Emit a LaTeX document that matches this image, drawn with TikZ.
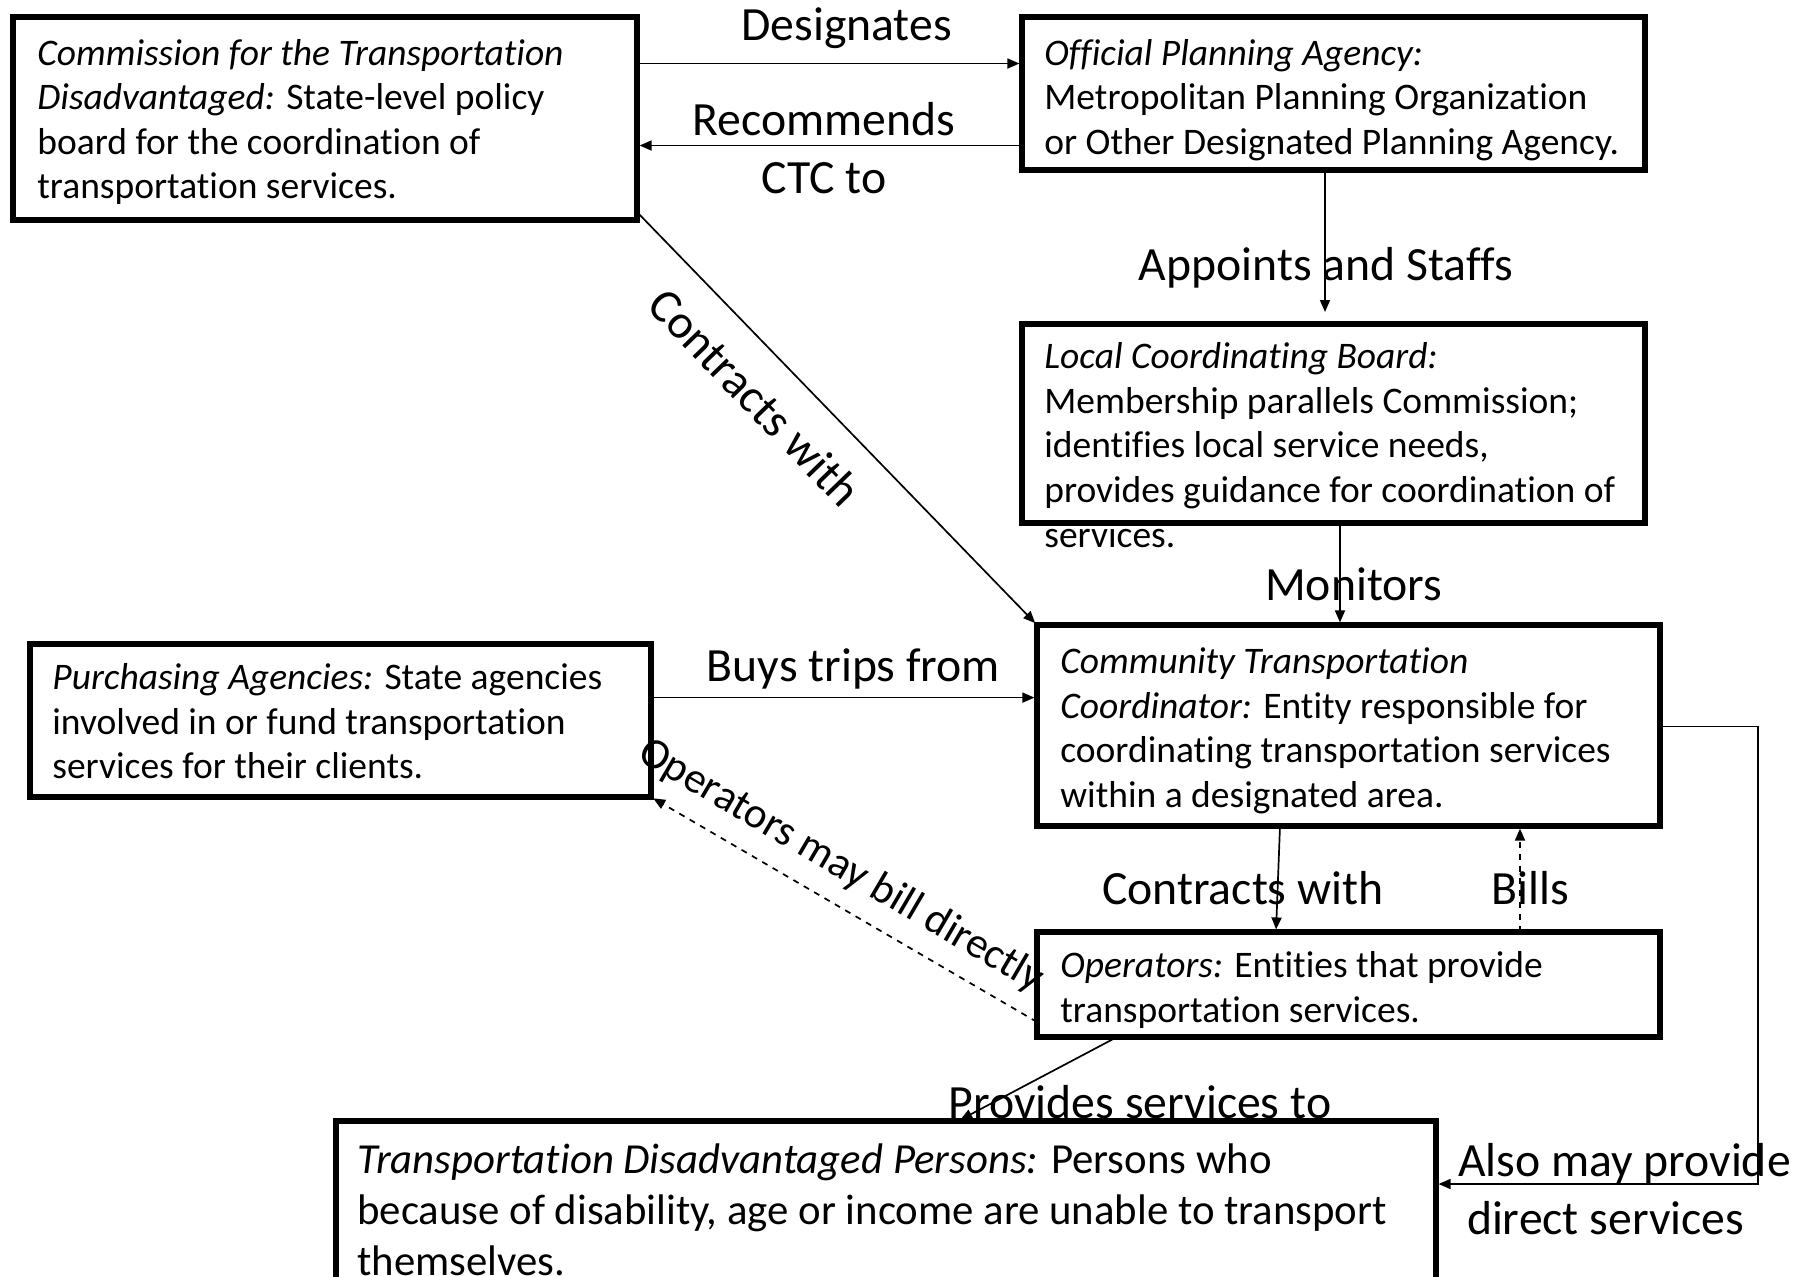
\documentclass[tikz,border=0pt]{standalone}
\usepackage{fontspec}
\setmainfont{Carlito}[Ligatures=NoCommon]
\usetikzlibrary{arrows.meta,fit}
\begin{document}
\begin{tikzpicture}[x=0.5pt,y=-0.5pt,
  bx/.style={draw,line width=2.8pt,inner sep=0pt,outer sep=0pt,rectangle},
  txt/.style={anchor=north west,inner sep=0pt,align=left,font=\fontsize{18.75}{22.3}\selectfont},
  bigtxt/.style={anchor=north west,inner sep=0pt,align=left,font=\fontsize{21.4}{25.5}\selectfont},
  lbl/.style={inner sep=0pt,align=center,font=\fontsize{23.85}{29}\selectfont},
  conn/.style={line width=0.85pt,-{Triangle[length=6pt,width=5pt]},shorten >=1.3pt},
]
\useasboundingbox (0,0) rectangle (1811,1276);
\clip (0,0) rectangle (1811,1276);

% boxes
\node[bx, fit={(13,17) (637,220)}] (b1) {};
\node[bx, fit={(1022,17) (1645,170)}] (b2) {};
\node[bx, fit={(1022,324) (1645,523)}] (b3) {};
\node[bx, fit={(1037,625) (1660,826)}] (b4) {};
\node[bx, fit={(30,644) (651,797)}] (b5) {};
\node[bx, fit={(1037,932) (1660,1037)}] (b6) {};
\node[bx, fit={(336,1121) (1436,1300)}] (b7) {};

% box texts
\node[txt] (t1) at (37,33.5) {\strut{\itshape Commission for the Transportation}\\{\itshape Disadvantaged:} State-level policy\\board for the coordination of\\transportation services.};
\node[txt] (t2) at (1044,33.5) {\strut{\itshape Official Planning Agency:}\\Metropolitan Planning Organization\\or Other Designated Planning Agency.};
\node[txt] (t3) at (1044,337) {\strut{\itshape Local Coordinating Board:}\\Membership parallels Commission;\\identifies local service needs,\\provides guidance for coordination of\\services.};
\node[txt] (t4) at (1060,642) {\strut{\itshape Community Transportation}\\{\itshape Coordinator:} Entity responsible for\\coordinating transportation services\\within a designated area.};
\node[txt] (t5) at (52,658) {\strut{\itshape Purchasing Agencies:} State agencies\\involved in or fund transportation\\services for their clients.};
\node[txt] (t6) at (1060,946) {\strut{\itshape Operators:} Entities that provide\\transportation services.};
\node[bigtxt] (t7) at (357,1137) {\strut{\itshape Transportation Disadvantaged Persons:} Persons who\\because of disability, age or income are unable to transport\\themselves.};

% connectors
\draw[conn] (b1.east |- 0,63.5) -- (b2.west |- 0,63.5);
\draw[conn] (b2.west |- 0,145.5) -- (b1.east |- 0,145.5);
\draw[conn,shorten >=6pt] (1325,0 |- b2.south) -- (1325,0 |- b3.north);
\draw[conn] (b1.east |- 0,212) -- (b4.north west);
\draw[conn] (1340,0 |- b3.south) -- (1340,0 |- b4.north);
\draw[conn] (b5.east |- 0,697.6) -- (b4.west |- 0,697.6);
\draw[conn,dashed] (b6.west |- 0,1022) -- (b5.south east);
\draw[conn] (1280,0 |- b4.south) -- (1276,0 |- b6.north);
\draw[conn,dashed] (1520,0 |- b6.north) -- (1520,0 |- b4.south);
\draw[conn] (1117,0 |- b6.south) -- (958,0 |- b7.north);
\coordinate (rt) at (1758,726.5);
\coordinate (rb) at (1758,1184);
\draw[conn] (b4.east |- rt) -- (rt) -- (rb) -- (b7.east |- rb);

% labels
\node[lbl,anchor=base] (l1) at (846.6,40.4) {Designates};
\node[lbl,anchor=north] (l2) at (824,94.4) {\strut Recommends\\\strut CTC to};
\node[lbl,anchor=base] (l3) at (1326,280.6) {Appoints and Staffs};
\node[lbl,rotate=-46] (l4) at (755,397) {Contracts with};
\node[lbl,anchor=base] (l5) at (1353.7,600.6) {Monitors};
\node[lbl,anchor=base] (l6) at (853.5,681.4) {Buys trips from};
\node[lbl,rotate=-30.4,font=\fontsize{21.6}{26}\selectfont] (l7) at (841,866) {Operators may bill directly};
\node[lbl,anchor=base] (l8) at (1242.8,904.4) {Contracts with};
\node[lbl,anchor=base] (l9) at (1530,904.4) {Bills};
\node[lbl,anchor=base] (l10) at (1140,1118) {Provides services to};
\node[lbl,anchor=north west,align=left] (l11) at (1457.6,1135.2) {\strut Also may provide\\\strut\hspace{4.5pt}direct services};
\end{tikzpicture}
\end{document}
